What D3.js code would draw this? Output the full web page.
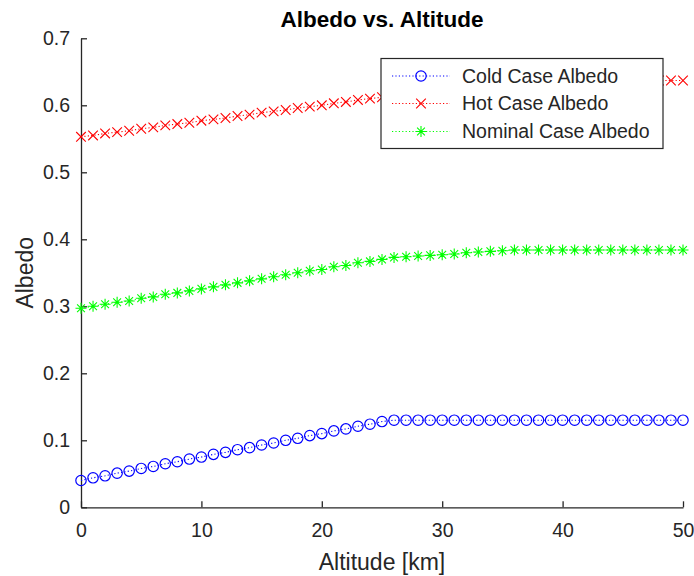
<!DOCTYPE html>
<html>
<head>
<meta charset="utf-8">
<script src="https://cdn.jsdelivr.net/npm/d3@7"></script>
<style>
  html, body { margin: 0; padding: 0; background: #fff; }
  svg { display: block; font-family: "Liberation Sans", Arial, Helvetica, sans-serif; }
</style>
</head>
<body>
<svg id="chart" width="694" height="576"></svg>
<script>
const altitude = d3.range(0, 51); // 0..50 km
const coldAlbedo = [0.040,0.044,0.047,0.051,0.054,0.058,0.061,0.065,0.068,0.072,
  0.075,0.079,0.082,0.086,0.089,0.093,0.096,0.100,0.103,0.107,
  0.110,0.114,0.117,0.121,0.124,0.128,0.130,0.130,0.130,0.130,
  0.130,0.130,0.130,0.130,0.130,0.130,0.130,0.130,0.130,0.130,
  0.130,0.130,0.130,0.130,0.130,0.130,0.130,0.130,0.130,0.130,0.130];
const hotAlbedo = [0.553,0.555,0.558,0.560,0.562,0.565,0.567,0.570,0.572,0.574,
  0.577,0.579,0.581,0.584,0.586,0.589,0.591,0.593,0.596,0.598,
  0.600,0.603,0.605,0.608,0.610,0.612,0.615,0.617,0.619,0.622,
  0.624,0.626,0.629,0.631,0.634,0.636,0.637,0.637,0.637,0.637,
  0.637,0.637,0.637,0.637,0.637,0.637,0.637,0.637,0.637,0.637,0.637];
const nominalAlbedo = [0.297,0.300,0.303,0.306,0.308,0.312,0.314,0.318,0.320,0.323,
  0.326,0.329,0.332,0.335,0.338,0.341,0.344,0.347,0.350,0.353,
  0.355,0.359,0.361,0.365,0.367,0.370,0.373,0.374,0.375,0.376,
  0.377,0.378,0.380,0.381,0.382,0.383,0.384,0.384,0.384,0.384,
  0.384,0.384,0.384,0.384,0.384,0.384,0.384,0.384,0.384,0.384,0.384];
const seriesNames = ["Cold Case Albedo", "Hot Case Albedo", "Nominal Case Albedo"];
const xTicks = [0, 10, 20, 30, 40, 50];
const yTicks = [0, 0.1, 0.2, 0.3, 0.4, 0.5, 0.6, 0.7];

const series = [
  { name: seriesNames[0], values: coldAlbedo, color: "#0000ff", marker: "circle" },
  { name: seriesNames[1], values: hotAlbedo, color: "#ff0000", marker: "x" },
  { name: seriesNames[2], values: nominalAlbedo, color: "#00ff00", marker: "star" }
];

const svg = d3.select("#chart");
const L = 81, R = 683, T = 38.3, B = 507.3;
const x = d3.scaleLinear().domain([0, 50]).range([L, R]);
const y = d3.scaleLinear().domain([0, 0.7]).range([B, T]);
const axisColor = "#262626";

function drawMarker(g, type, cx, cy, color) {
  if (type === "circle") {
    g.append("circle").attr("cx", cx).attr("cy", cy).attr("r", 5.2)
      .attr("fill", "none").attr("stroke", color).attr("stroke-width", 1.2);
  } else if (type === "x") {
    const s = 4.8;
    g.append("path").attr("d", `M${cx-s},${cy-s}L${cx+s},${cy+s}M${cx-s},${cy+s}L${cx+s},${cy-s}`)
      .attr("stroke", color).attr("stroke-width", 1.1).attr("fill", "none");
  } else {
    const s = 5.5, d = 3.9;
    g.append("path").attr("d", `M${cx},${cy-s}L${cx},${cy+s}M${cx-s},${cy}L${cx+s},${cy}M${cx-d},${cy-d}L${cx+d},${cy+d}M${cx-d},${cy+d}L${cx+d},${cy-d}`)
      .attr("stroke", color).attr("stroke-width", 1.1).attr("fill", "none");
  }
}

// Axes
const xAxis = d3.axisBottom(x).tickValues(xTicks).tickSizeInner(-6).tickSizeOuter(0).tickPadding(16)
  .tickFormat(d3.format("d"));
const yAxis = d3.axisLeft(y).tickValues(yTicks).tickSizeInner(-6).tickSizeOuter(0).tickPadding(11)
  .tickFormat(d => d === 0 ? "0" : d3.format(".1f")(d));

const gx = svg.append("g").attr("transform", `translate(0,${B})`).call(xAxis);
const gy = svg.append("g").attr("transform", `translate(${L},0)`).call(yAxis);
[gx, gy].forEach(g => {
  g.select(".domain").attr("stroke", axisColor).attr("stroke-width", 1.3);
  g.selectAll(".tick line").attr("stroke", axisColor).attr("stroke-width", 1.3);
  g.selectAll(".tick text").attr("fill", axisColor).style("font-size", "19.5px")
    .style("font-family", "'Liberation Sans', Arial, sans-serif");
});

// Series
const line = d3.line().x((d, i) => x(altitude[i])).y(d => y(d));
series.forEach(s => {
  svg.append("path").datum(s.values).attr("d", line)
    .attr("fill", "none").attr("stroke", s.color).attr("stroke-width", 1.1)
    .attr("stroke-dasharray", "1.2,2.2");
  const g = svg.append("g");
  s.values.forEach((v, i) => drawMarker(g, s.marker, x(altitude[i]), y(v), s.color));
});

// Labels
svg.append("text").attr("x", (L + R) / 2).attr("y", 27).attr("text-anchor", "middle")
  .style("font-size", "22.5px").style("font-weight", "bold").attr("fill", "#000")
  .text("Albedo vs. Altitude");
svg.append("text").attr("x", (L + R) / 2).attr("y", 570).attr("text-anchor", "middle")
  .style("font-size", "23px").attr("fill", axisColor).text("Altitude [km]");
svg.append("text").attr("transform", `translate(33,${(T + B) / 2}) rotate(-90)`)
  .attr("text-anchor", "middle").style("font-size", "23px").attr("fill", axisColor).text("Albedo");

// Legend
const lg = svg.append("g");
lg.append("rect").attr("x", 381).attr("y", 58.5).attr("width", 282).attr("height", 90)
  .attr("fill", "#fff").attr("stroke", axisColor).attr("stroke-width", 1.2);
const rowY = [76, 103.5, 131.5];
series.forEach((s, i) => {
  lg.append("line").attr("x1", 392).attr("x2", 450).attr("y1", rowY[i]).attr("y2", rowY[i])
    .attr("stroke", s.color).attr("stroke-width", 1.1).attr("stroke-dasharray", "1.2,2.2");
  drawMarker(lg, s.marker, 421, rowY[i], s.color);
  lg.append("text").attr("x", 462).attr("y", rowY[i]).attr("dy", "0.35em")
    .style("font-size", "19.5px").attr("fill", axisColor).text(s.name);
});
</script>
</body>
</html>
